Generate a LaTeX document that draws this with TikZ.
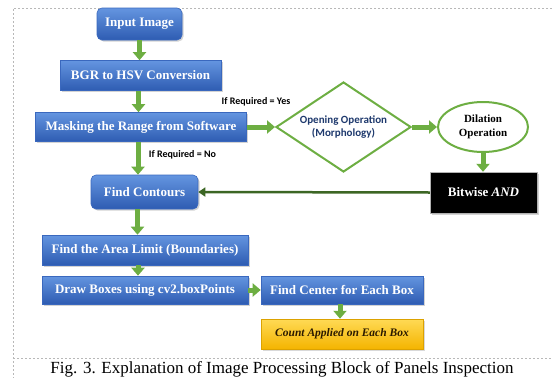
\documentclass[tikz,border=0pt]{standalone}
\usepackage{fontspec}
\setmainfont{Liberation Serif}
\newfontfamily\carl{Carlito}
\usetikzlibrary{arrows.meta,shapes.geometric,shadows}
\definecolor{bTop}{HTML}{6495E0}
\definecolor{bBot}{HTML}{2E5CB2}
\definecolor{bLine}{HTML}{3A68BE}
\definecolor{gArr}{HTML}{6DAE42}
\definecolor{gDark}{HTML}{3C6624}
\definecolor{dText}{HTML}{1F3A6E}
\definecolor{yTop}{HTML}{FFDA55}
\definecolor{yBot}{HTML}{F4B400}
\definecolor{cText}{HTML}{2B1A00}
\definecolor{frameC}{HTML}{B8B8B8}
\tikzset{
  bluebox/.style={rectangle, draw=bLine, line width=0.6pt, top color=bTop, bottom color=bBot,
    text=white, font=\bfseries\fontsize{13}{15}\selectfont, inner sep=0pt, align=center,
    drop shadow={shadow xshift=1.5pt, shadow yshift=-1.5pt, opacity=0.35}},
  roundbox/.style={bluebox, rounded corners=5pt},
  garrow/.style={draw=gArr, line width=5pt, -{Triangle[width=13pt,length=8pt]}},
  darrow/.style={draw=gDark, line width=2.5pt, -{Triangle[width=9pt,length=7pt]}},
  cond/.style={font=\carl\bfseries\fontsize{10}{12}\selectfont, text=black, inner sep=0pt},
}
\begin{document}
\begin{tikzpicture}[x=1pt,y=-1pt]
\useasboundingbox (0,0) rectangle (552,378);
% frame
\draw[frameC, line width=0.8pt, dash pattern=on 2pt off 2pt] (552,8) -- (13,8) -- (13,378);
\draw[frameC, line width=0.8pt, dash pattern=on 2pt off 2pt] (13,358) -- (552,358);

% nodes
\node[roundbox, minimum width=85pt, minimum height=32pt] (in) at (139.5,24) {Input Image};
\node[bluebox, minimum width=161pt, minimum height=30pt] (bgr) at (140.5,75.5) {BGR to HSV Conversion};
\node[bluebox, minimum width=211pt, minimum height=29pt] (mask) at (141,127) {Masking the Range from Software};
\node[diamond, draw=gArr, line width=2pt, fill=white, minimum width=135pt, minimum height=90pt, inner sep=0pt,
  aspect=1.5, align=center, text=dText, font=\carl\bfseries\fontsize{11}{13}\selectfont] (dia) at (343.5,127)
  {Opening Operation\\(Morphology)};
\node[ellipse, draw=gArr, line width=2pt, fill=white, minimum width=90pt, minimum height=50pt, inner sep=0pt,
  align=center, font=\bfseries\fontsize{11}{13.5}\selectfont] (dil) at (483,127) {Dilation\\Operation};
\node[rectangle, draw=gray!60, fill=black, minimum width=107pt, minimum height=41pt, inner sep=0pt,
  text=white, font=\bfseries\fontsize{13}{15}\selectfont,
  drop shadow={shadow xshift=1.5pt, shadow yshift=-1.5pt, opacity=0.35}] (bit) at (483.5,192.5) {Bitwise \textit{AND}};
\node[roundbox, minimum width=107pt, minimum height=34pt] (con) at (144.5,192) {Find Contours};
\node[bluebox, minimum width=206pt, minimum height=30pt] (area) at (145,250) {Find the Area Limit (Boundaries)};
\node[bluebox, minimum width=206pt, minimum height=28pt] (drw) at (145,290) {Draw Boxes using cv2.boxPoints};
\node[bluebox, minimum width=162pt, minimum height=28pt] (cen) at (342,290) {Find Center for Each Box};
\node[rectangle, draw=yBot!90!black, line width=0.5pt, top color=yTop, bottom color=yBot, minimum width=162pt, minimum height=30pt,
  inner sep=0pt, text=cText, font=\bfseries\itshape\fontsize{11.5}{13}\selectfont,
  drop shadow={shadow xshift=1.5pt, shadow yshift=-1.5pt, opacity=0.3}] (cnt) at (342,334) {Count Applied on Each Box};

% labels
\node[cond] (yes) at (256,102) {If Required = Yes};
\node[cond] (no) at (182.5,155) {If Required = No};

% arrows
\draw[garrow] (in.south) -- (in.south |- bgr.north);
\draw[garrow] ([xshift=-2pt]bgr.south) -- ([xshift=-2pt]bgr.south |- mask.north);
\draw[garrow] ([xshift=-3pt]mask.south) -- ([xshift=-3pt]mask.south |- con.north);
\draw[garrow] (mask.east) -- (dia.west);
\draw[garrow] (dia.east) -- (dil.west);
\draw[garrow] (dil.south) -- (dil.south |- bit.north);
\draw[darrow] (bit.west) -- (con.east);
\draw[garrow] ([xshift=-7pt]con.south) -- ([xshift=-7pt]con.south |- area.north);
\draw[garrow] ([xshift=-7pt]area.south) -- ([xshift=-7pt]area.south |- drw.north);
\draw[garrow] (drw.east) -- (cen.west);
\draw[garrow] ([xshift=-2pt]cen.south) -- ([xshift=-2pt]cen.south |- cnt.north);

% caption
\node[anchor=base, inner sep=0pt, font=\fontsize{17}{20}\selectfont] (cap) at (282,373)
  {Fig. 3. Explanation of Image Processing Block of Panels Inspection};
\end{tikzpicture}
\end{document}
